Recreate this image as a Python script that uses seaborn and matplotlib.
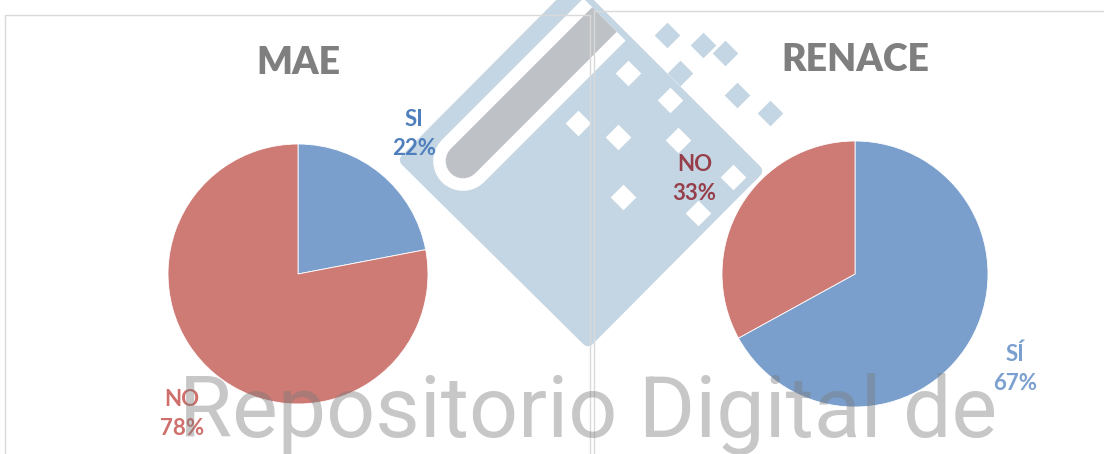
import numpy as np
import pandas as pd
import matplotlib.pyplot as plt
import seaborn as sns
from matplotlib.patches import Polygon

# data
mae_labels = ['SI', 'NO']
mae_values = [22, 78]
renace_labels = ['SÍ', 'NO']
renace_values = [67, 33]

titles = ['MAE', 'RENACE']
pie_colors = ['#7a9fcc', '#ce7a75']
mae_label_colors = ['#4f7fbd', '#cf6f6b']
renace_label_colors = ['#7ba0cf', '#963f4b']

sns.set_theme(style='white')
plt.rcParams['font.family'] = ['Lato', 'DejaVu Sans']

W, H = 1104, 454
fig = plt.figure(figsize=(W / 100, H / 100), dpi=100)
fig.patch.set_facecolor('white')

# background: panel frames and the repository logo watermark
bg = fig.add_axes([0, 0, 1, 1], zorder=0)
bg.set_xlim(0, W)
bg.set_ylim(H, 0)
bg.axis('off')

logo_blue = '#c4d6e3'
diamond = Polygon([(406, 160), (588, 340), (756, 171), (575, -10)], closed=True,
                  facecolor=logo_blue, edgecolor=logo_blue, lw=9, joinstyle='round')
bg.add_patch(diamond)
halo, = bg.plot([463, 650], [161, -26], color='white', lw=43, solid_capstyle='round')
bar, = bg.plot([463, 650], [161, -26], color='#bec1c6', lw=25, solid_capstyle='round')
halo.set_clip_path(diamond)
bar.set_clip_path(diamond)

white_dots_x = [578, 628, 618, 623, 678, 733, 698, 670]
white_dots_y = [123, 73, 137, 197, 140, 177, 213, 100]
bg.scatter(white_dots_x, white_dots_y, marker='D', s=170, color='white', lw=0, zorder=3)
blue_dots_x = [667, 703, 725, 680, 737, 770]
blue_dots_y = [35, 45, 53, 73, 95, 113]
bg.scatter(blue_dots_x, blue_dots_y, marker='D', s=170, color=logo_blue, lw=0, zorder=3)

frame = '#d9d9d9'
bg.plot([5, 5, 590, 590], [H, 15, 15, H], color=frame, lw=1, zorder=4)
bg.plot([594, 594, W], [H, 11, 11], color=frame, lw=1, zorder=4)


def draw_pie(cx, cy, r, labels, values, label_colors, title, ty):
    ax = fig.add_axes([(cx - r) / W, (H - cy - r) / H, 2 * r / W, 2 * r / H], zorder=2)
    ax.patch.set_alpha(0)
    df = pd.DataFrame({'label': labels, 'value': values})
    texts = [f'{l}\n{v}%' for l, v in zip(df['label'], df['value'])]
    wedges, label_texts = ax.pie(df['value'], labels=texts, colors=pie_colors,
                                 startangle=90, counterclock=False, labeldistance=1.4,
                                 wedgeprops=dict(lw=0.6, edgecolor='white'),
                                 textprops=dict(fontsize=16, fontweight='bold', linespacing=1.45))
    for t, c in zip(label_texts, label_colors):
        t.set_color(c)
        t.set_ha('center')
        t.set_va('center')
        t.set_clip_on(False)
    ax.set_xlim(-1, 1)
    ax.set_ylim(-1, 1)
    fig.text(cx / W, 1 - ty / H, title, ha='center', va='center', fontsize=27,
             fontweight='heavy', color='#7f7f7f')
    return ax


draw_pie(298, 274, 130, mae_labels, mae_values, mae_label_colors, titles[0], 63)
draw_pie(855, 274, 133, renace_labels, renace_values, renace_label_colors, titles[1], 60)

# watermark text over everything
fig.text(179 / W, 1 - 437 / H, 'Repositorio Digital de', ha='left', va='baseline',
         fontsize=62, fontweight='normal', color='#7a7a7a', alpha=0.42,
         family=['Roboto', 'DejaVu Sans'], zorder=10)

fig.savefig('out.png', dpi=100)
